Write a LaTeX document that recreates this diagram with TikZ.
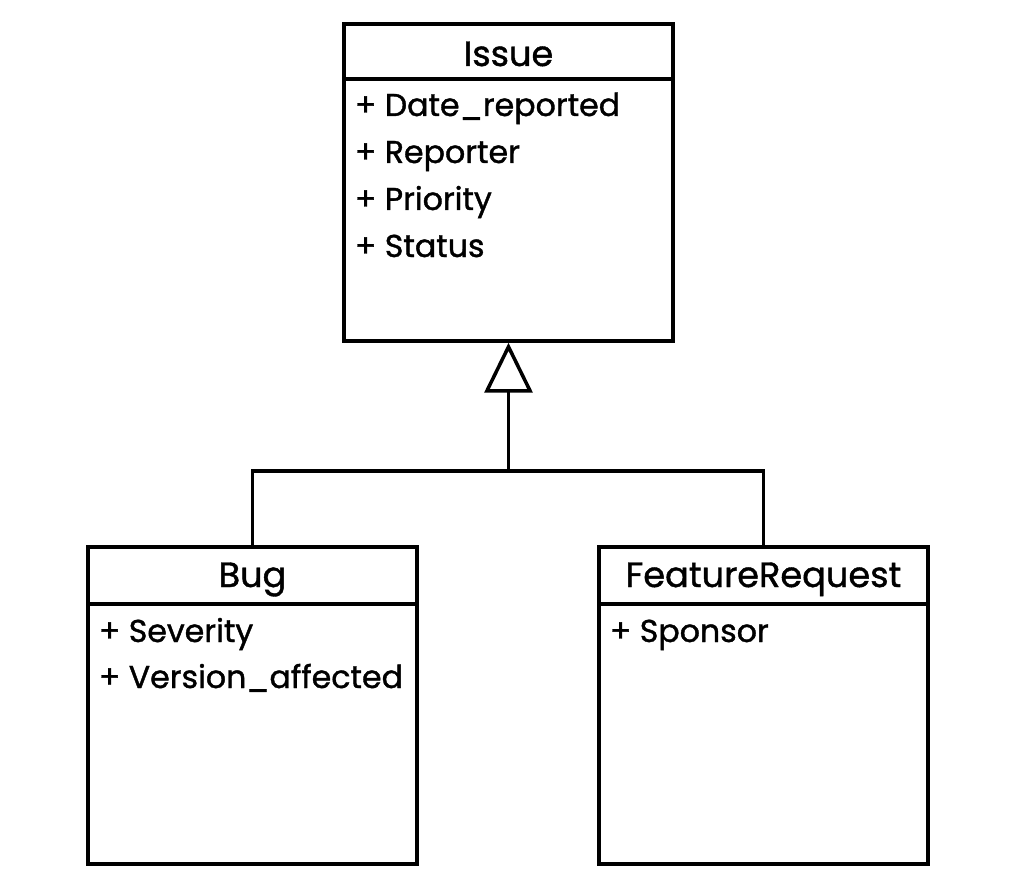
\documentclass[tikz,border=0pt]{standalone}
\usepackage{fontspec}
\setmainfont{Poppins}[FakeBold=1.2]
\usepackage{tikz}
\usetikzlibrary{arrows.meta}
\usetikzlibrary{calc}

\begin{document}
\begin{tikzpicture}[x=0.02cm,y=-0.02cm,line width=2pt,
	classbox/.style={draw,rectangle,minimum width=6.58cm,minimum height=6.34cm,inner sep=0pt},
	classname/.style={anchor=base,inner sep=0pt,font=\fontsize{20}{24}\selectfont},
	attr/.style={anchor=base west,inner sep=0pt,font=\fontsize{18}{21}\selectfont},
	inherit/.style={-{Triangle[open,length=1cm,width=0.96cm,line width=2pt]}}]
\useasboundingbox (0,0) rectangle (1021,895);
%Issue
\node[classbox] (issue) at (508.5,182.5) {};
\node[classname] (issueT) at (508.5,66) {Issue};
\draw (issue.west |- 0,79) -- (issue.east |- 0,79);
\node[attr] (a1) at (353,116) {+ Date\_reported};
\node[attr] (a2) at (353,163) {+ Reporter};
\node[attr] (a3) at (353,210) {+ Priority};
\node[attr] (a4) at (353,257) {+ Status};
%Bug
\node[classbox] (bug) at (252.5,705.5) {};
\node[classname] (bugT) at (252.5,587) {Bug};
\draw (bug.west |- 0,604) -- (bug.east |- 0,604);
\node[attr] (b1) at (97,642) {+ Severity};
\node[attr] (b2) at (97,688) {+ Version\_affected};
%FeatureRequest
\node[classbox] (fr) at (763.5,705.5) {};
\node[classname] (frT) at (763.5,587) {FeatureRequest};
\draw (fr.west |- 0,604) -- (fr.east |- 0,604);
\node[attr] (f1) at (608,642) {+ Sponsor};
%heritage
\coordinate (J) at (508.5,471);
\draw (bug.north) |- (J) -| (fr.north);
\draw[inherit] (J) -- (issue.south);
\end{tikzpicture}
\end{document}
